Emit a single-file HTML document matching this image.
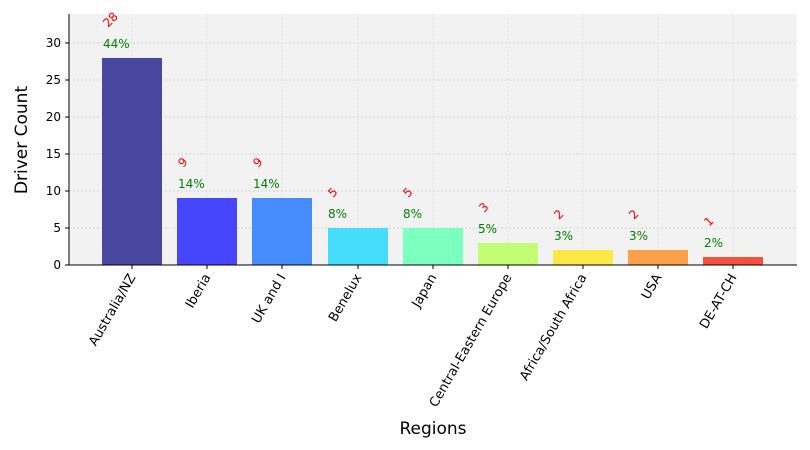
<!DOCTYPE html>
<html><head><meta charset="utf-8"><style>html,body{margin:0;padding:0;background:#fff}svg{display:block}</style></head>
<body>
<svg width="810" height="450" xmlns="http://www.w3.org/2000/svg" font-family="DejaVu Sans, Liberation Sans, sans-serif">
<rect x="69" y="14" width="728" height="251" fill="#f2f2f2"/>
<g stroke="#c8c8c8" stroke-width="0.8" stroke-dasharray="2,2">
<line x1="69" x2="797" y1="228" y2="228"/><line x1="69" x2="797" y1="191" y2="191"/>
<line x1="69" x2="797" y1="154" y2="154"/><line x1="69" x2="797" y1="117" y2="117"/>
<line x1="69" x2="797" y1="80" y2="80"/><line x1="69" x2="797" y1="43" y2="43"/>
</g>
<g stroke="#e2e2e2" stroke-width="0.8" stroke-dasharray="2,2">
<line x1="132" x2="132" y1="14" y2="265"/><line x1="207" x2="207" y1="14" y2="265"/><line x1="282" x2="282" y1="14" y2="265"/><line x1="358" x2="358" y1="14" y2="265"/><line x1="433" x2="433" y1="14" y2="265"/><line x1="508" x2="508" y1="14" y2="265"/><line x1="583" x2="583" y1="14" y2="265"/><line x1="658" x2="658" y1="14" y2="265"/><line x1="733" x2="733" y1="14" y2="265"/>
</g>
<rect x="102" y="58" width="60" height="207" fill="#4848a0"/>
<rect x="177" y="198" width="60" height="67" fill="#4646fc"/>
<rect x="252" y="198" width="60" height="67" fill="#468cfc"/>
<rect x="328" y="228" width="60" height="37" fill="#46dcfc"/>
<rect x="403" y="228" width="60" height="37" fill="#7dffc0"/>
<rect x="478" y="243" width="60" height="22" fill="#c2fd73"/>
<rect x="553" y="250" width="60" height="15" fill="#fce846"/>
<rect x="628" y="250" width="60" height="15" fill="#fca04a"/>
<rect x="703" y="257" width="60" height="8" fill="#f4503c"/>
<g font-size="12" fill="#008000">
<text x="103" y="48">44%</text><text x="178" y="188">14%</text><text x="253" y="188">14%</text><text x="328" y="218">8%</text><text x="403" y="218">8%</text><text x="478" y="233">5%</text><text x="554" y="240">3%</text><text x="629" y="240">3%</text><text x="704" y="247">2%</text>
</g>
<g font-size="12" fill="#ff0000">
<text transform="translate(108,28) rotate(-45)">28</text>
<text transform="translate(183,168) rotate(-45)">9</text>
<text transform="translate(258,168) rotate(-45)">9</text>
<text transform="translate(333,198) rotate(-45)">5</text>
<text transform="translate(408,198) rotate(-45)">5</text>
<text transform="translate(484,213) rotate(-45)">3</text>
<text transform="translate(559,220) rotate(-45)">2</text>
<text transform="translate(634,220) rotate(-45)">2</text>
<text transform="translate(709,227) rotate(-45)">1</text>
</g>
<line x1="69" y1="14" x2="69" y2="265.5" stroke="#000" stroke-width="1"/>
<line x1="68.5" y1="265" x2="797" y2="265" stroke="#000" stroke-width="1"/>
<g stroke="#000"><line x1="65" x2="69" y1="265" y2="265"/><line x1="65" x2="69" y1="228" y2="228"/><line x1="65" x2="69" y1="191" y2="191"/><line x1="65" x2="69" y1="154" y2="154"/><line x1="65" x2="69" y1="117" y2="117"/><line x1="65" x2="69" y1="80" y2="80"/><line x1="65" x2="69" y1="43" y2="43"/>
<line x1="132" x2="132" y1="265" y2="269"/><line x1="207" x2="207" y1="265" y2="269"/><line x1="282" x2="282" y1="265" y2="269"/><line x1="358" x2="358" y1="265" y2="269"/><line x1="433" x2="433" y1="265" y2="269"/><line x1="508" x2="508" y1="265" y2="269"/><line x1="583" x2="583" y1="265" y2="269"/><line x1="658" x2="658" y1="265" y2="269"/><line x1="733" x2="733" y1="265" y2="269"/></g>
<g font-size="12" fill="#000" text-anchor="end">
<text x="61" y="269">0</text><text x="61" y="232">5</text><text x="61" y="195">10</text><text x="61" y="158">15</text><text x="61" y="121">20</text><text x="61" y="84">25</text><text x="61" y="47">30</text>
</g>
<g font-size="13" fill="#000" text-anchor="end">
<text transform="translate(136,277) rotate(-60)">Australia/NZ</text>
<text transform="translate(211,277) rotate(-60)">Iberia</text>
<text transform="translate(286,277) rotate(-60)">UK and I</text>
<text transform="translate(362,277) rotate(-60)">Benelux</text>
<text transform="translate(437,277) rotate(-60)">Japan</text>
<text transform="translate(512,277) rotate(-60)">Central-Eastern Europe</text>
<text transform="translate(587,277) rotate(-60)">Africa/South Africa</text>
<text transform="translate(662,277) rotate(-60)">USA</text>
<text transform="translate(737,277) rotate(-60)">DE-AT-CH</text>
</g>
<text x="433" y="434" font-size="17" text-anchor="middle">Regions</text>
<text transform="translate(27,140) rotate(-90)" font-size="17" text-anchor="middle">Driver Count</text>
</svg>
</body></html>
